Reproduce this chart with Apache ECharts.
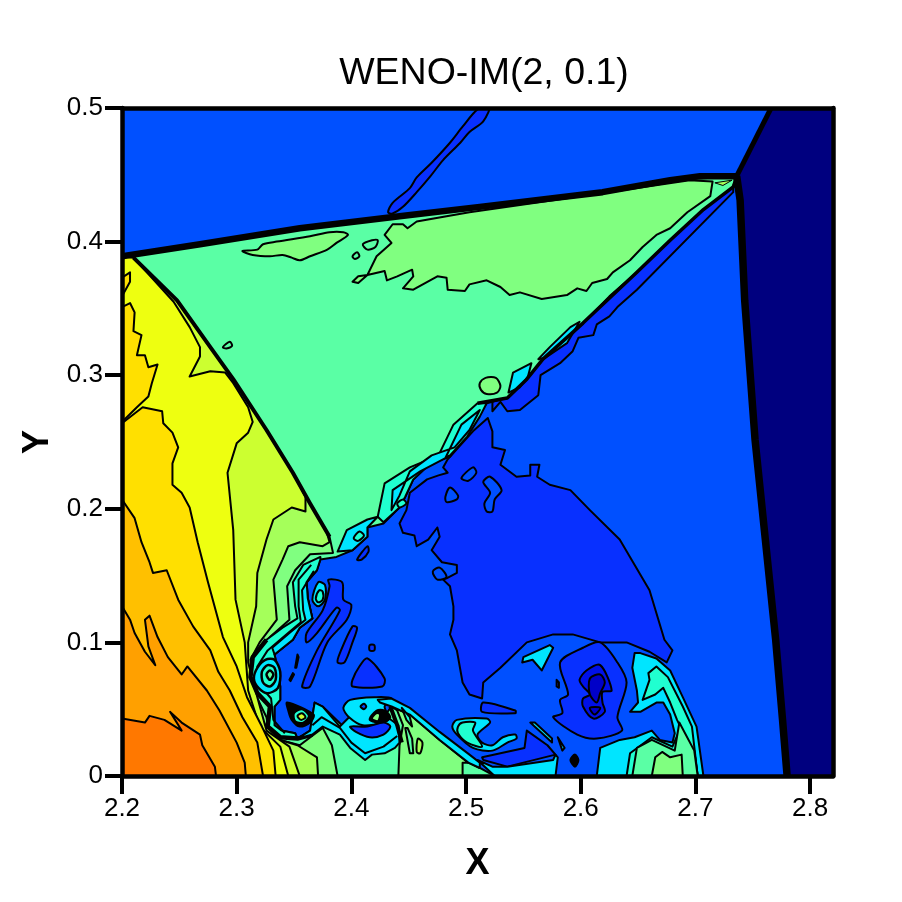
<!DOCTYPE html>
<html><head><meta charset="utf-8">
<style>html,body{margin:0;background:#fff}#c{width:902px;height:902px}</style>
<script src="https://cdn.jsdelivr.net/npm/echarts@6/dist/echarts.min.js"></script>
</head><body><div id="c"></div>
<script>
const chartTitle='WENO-IM(2, 0.1)';
const xTicks=[2.2,2.3,2.4,2.5,2.6,2.7,2.8];
const yTicks=[0,0.1,0.2,0.3,0.4,0.5];
const field=[[2.2,0],[2.82,0],[2.82,.5],[2.2,.5]];
const navy=[[2.766,.5],[2.82,.5],[2.82,0],[2.78,0],[2.776,.042],[2.77,.102],[2.761,.177],[2.752,.252],[2.743,.356],[2.739,.431],[2.736,.448]];
const jet=[[2.432,.422],[2.436,.429],[2.451,.44],[2.457,.448],[2.47,.459],[2.486,.474],[2.497,.486],[2.51,.499],[2.521,.502],[2.515,.49],[2.503,.482],[2.495,.474],[2.48,.461],[2.469,.449],[2.457,.437],[2.445,.426],[2.436,.421]];
const innerBlue=[[2.519,.268],[2.523,.258],[2.523,.246],[2.534,.244],[2.53,.233],[2.544,.224],[2.556,.225],[2.556,.233],[2.564,.233],[2.562,.224],[2.573,.218],[2.591,.214],[2.608,.199],[2.634,.177],[2.66,.139],[2.673,.102],[2.68,.094],[2.675,.085],[2.66,.093],[2.64,.1],[2.617,.1],[2.593,.106],[2.576,.106],[2.553,.1],[2.53,.081],[2.515,.07],[2.514,.058],[2.503,.061],[2.497,.07],[2.492,.094],[2.486,.106],[2.489,.117],[2.489,.127],[2.486,.142],[2.48,.147],[2.483,.148],[2.492,.152],[2.492,.158],[2.479,.16],[2.47,.169],[2.477,.179],[2.475,.186],[2.467,.177],[2.457,.172],[2.455,.18],[2.445,.182],[2.442,.189],[2.448,.199],[2.451,.212],[2.466,.222],[2.476,.225],[2.484,.227],[2.48,.231],[2.484,.237],[2.506,.258]];
const isleA=[[2.471,.153],[2.477,.156],[2.483,.149],[2.475,.147]];
const isleB=[[2.482,.209],[2.486,.216],[2.493,.21],[2.492,.207],[2.483,.205]];
const isleC=[[2.496,.223],[2.506,.231],[2.509,.227],[2.502,.221]];
const isleD=[[2.515,.22],[2.521,.224],[2.531,.214],[2.525,.207],[2.523,.198],[2.518,.198],[2.516,.204],[2.521,.212]];
const slipStrip=[[2.523,.273],[2.53,.28],[2.536,.273],[2.547,.274],[2.563,.285],[2.565,.3],[2.582,.309],[2.593,.318],[2.598,.328],[2.611,.33],[2.614,.338],[2.625,.344],[2.632,.351],[2.649,.364],[2.733,.437],[2.733,.446],[2.617,.37],[2.564,.325],[2.538,.3],[2.523,.285]];
const teal=[[2.2,.389],[2.355,.41],[2.512,.426],[2.619,.437],[2.678,.446],[2.736,.449],[2.733,.441],[2.707,.424],[2.678,.401],[2.649,.377],[2.625,.359],[2.602,.339],[2.588,.327],[2.567,.312],[2.553,.297],[2.536,.283],[2.518,.279],[2.51,.269],[2.501,.255],[2.486,.239],[2.469,.234],[2.454,.222],[2.447,.209],[2.442,.201],[2.428,.189],[2.414,.186],[2.414,.179],[2.401,.169],[2.387,.164],[2.373,.162],[2.37,.154],[2.361,.145],[2.362,.133],[2.366,.118],[2.355,.111],[2.349,.102],[2.333,.091],[2.336,.079],[2.338,.067],[2.338,.057],[2.333,.052],[2.333,.038],[2.339,.034],[2.351,.032],[2.353,.028],[2.364,.034],[2.368,.055],[2.375,.052],[2.393,.037],[2.42,.035],[2.435,.052],[2.451,.046],[2.477,.027],[2.502,.01],[2.512,.006],[2.525,0],[2.2,0]];
const patchSmall=[[2.305,.393],[2.318,.394],[2.323,.398],[2.335,.4],[2.364,.404],[2.381,.407],[2.393,.407],[2.397,.405],[2.387,.399],[2.379,.394],[2.364,.389],[2.355,.386],[2.348,.388],[2.34,.39],[2.329,.389],[2.314,.39]];
const patchBig=[[2.436,.413],[2.445,.413],[2.449,.41],[2.457,.415],[2.483,.419],[2.503,.422],[2.617,.436],[2.695,.446],[2.715,.445],[2.713,.434],[2.693,.422],[2.678,.41],[2.666,.405],[2.654,.396],[2.643,.386],[2.628,.377],[2.623,.372],[2.61,.369],[2.605,.363],[2.597,.365],[2.588,.36],[2.566,.357],[2.547,.362],[2.538,.36],[2.53,.366],[2.518,.371],[2.503,.368],[2.499,.363],[2.484,.364],[2.483,.373],[2.475,.374],[2.454,.364],[2.445,.365],[2.454,.374],[2.453,.379],[2.44,.374],[2.431,.371],[2.429,.378],[2.414,.375],[2.406,.369],[2.401,.37],[2.406,.374],[2.414,.375],[2.422,.389],[2.435,.399],[2.429,.405]];
const tipPatch=[[2.717,.444],[2.732,.446],[2.724,.442]];
const ovalA=[[2.41,.398],[2.418,.401],[2.423,.401],[2.421,.396],[2.414,.394]];
const ovalB=[[2.401,.389],[2.405,.392],[2.407,.389],[2.403,.387]];
const ovalC=[[2.288,.321],[2.294,.325],[2.296,.322],[2.291,.32]];
const ovalD=[[2.512,.294],[2.517,.298],[2.526,.298],[2.53,.292],[2.527,.287],[2.518,.286],[2.513,.289]];
const fanShock=[[2.21,.388],[2.248,.356],[2.277,.321],[2.297,.297],[2.326,.259],[2.349,.227],[2.364,.204],[2.381,.179]];
const fan8=[[2.2,.389],[2.21,.388],[2.248,.356],[2.277,.321],[2.297,.297],[2.326,.259],[2.349,.227],[2.364,.204],[2.381,.179],[2.384,.167],[2.364,.166],[2.351,.154],[2.344,.142],[2.346,.117],[2.329,.104],[2.314,.089],[2.313,.067],[2.326,.044],[2.329,.029],[2.355,.023],[2.375,.036],[2.383,.023],[2.388,0],[2.2,0]];
const fan7=[[2.2,.389],[2.21,.388],[2.248,.356],[2.277,.321],[2.297,.297],[2.326,.259],[2.349,.227],[2.364,.204],[2.378,.184],[2.381,.175],[2.375,.172],[2.355,.175],[2.345,.172],[2.34,.162],[2.332,.147],[2.335,.117],[2.32,.1],[2.312,.087],[2.314,.064],[2.323,.04],[2.338,.027],[2.353,.023],[2.37,.014],[2.371,0],[2.2,0]];
const fan6=[[2.2,.389],[2.21,.388],[2.248,.356],[2.277,.321],[2.297,.297],[2.326,.259],[2.349,.227],[2.36,.209],[2.36,.198],[2.348,.201],[2.332,.192],[2.326,.177],[2.318,.152],[2.317,.127],[2.31,.1],[2.31,.085],[2.318,.059],[2.326,.034],[2.346,.022],[2.355,0],[2.2,0]];
const fan5=[[2.2,.389],[2.21,.388],[2.245,.355],[2.259,.336],[2.268,.321],[2.268,.314],[2.259,.299],[2.277,.303],[2.29,.302],[2.297,.294],[2.31,.276],[2.314,.265],[2.31,.257],[2.3,.249],[2.292,.227],[2.297,.184],[2.299,.132],[2.307,.1],[2.31,.064],[2.32,.037],[2.338,.022],[2.345,0],[2.2,0]];
const fan4=[[2.2,.264],[2.218,.276],[2.235,.273],[2.236,.264],[2.244,.257],[2.249,.246],[2.244,.234],[2.244,.218],[2.252,.212],[2.259,.201],[2.266,.175],[2.275,.145],[2.288,.104],[2.3,.082],[2.309,.059],[2.322,.037],[2.332,.019],[2.334,0],[2.2,0]];
const fan4b=[[2.2,.351],[2.207,.354],[2.211,.347],[2.21,.333],[2.217,.33],[2.213,.315],[2.22,.315],[2.223,.306],[2.231,.308],[2.226,.294],[2.223,.284],[2.213,.276],[2.2,.265]];
const fan4c=[[2.2,.373],[2.207,.377],[2.207,.37],[2.2,.359]];
const fan3=[[2.2,.207],[2.211,.193],[2.217,.175],[2.224,.16],[2.227,.152],[2.239,.154],[2.249,.132],[2.262,.112],[2.277,.094],[2.284,.078],[2.294,.064],[2.305,.044],[2.318,.025],[2.323,0],[2.2,0]];
const fan2=[[2.2,.127],[2.207,.117],[2.211,.107],[2.22,.093],[2.229,.083],[2.223,.097],[2.22,.117],[2.224,.12],[2.231,.104],[2.24,.089],[2.252,.076],[2.257,.082],[2.274,.064],[2.285,.049],[2.3,.025],[2.307,.01],[2.308,0],[2.2,0]];
const fan1=[[2.2,.043],[2.22,.04],[2.224,.045],[2.237,.042],[2.252,.034],[2.242,.048],[2.252,.04],[2.268,.031],[2.27,.023],[2.281,.007],[2.282,0],[2.2,0]];
const lensA=[[2.563,.312],[2.573,.321],[2.591,.336],[2.599,.34],[2.588,.324],[2.569,.313]];
const lensB=[[2.537,.287],[2.541,.302],[2.557,.309],[2.554,.299],[2.547,.291]];
const lensC=[[2.423,.194],[2.429,.219],[2.451,.231],[2.476,.24],[2.489,.263],[2.51,.279],[2.518,.279],[2.512,.269],[2.501,.254],[2.486,.24],[2.469,.234],[2.454,.222],[2.447,.209],[2.442,.201],[2.428,.19]];
const lensCin=[[2.435,.199],[2.436,.214],[2.46,.228],[2.482,.238],[2.496,.263],[2.512,.274],[2.503,.259],[2.49,.246],[2.47,.24],[2.451,.228],[2.442,.21]];
const lensD=[[2.388,.168],[2.396,.184],[2.414,.192],[2.423,.194],[2.414,.186],[2.414,.179],[2.401,.169]];
const ringC=[[2.44,.204],[2.445,.207],[2.448,.204],[2.442,.201]];
const ringD=[[2.402,.178],[2.407,.183],[2.411,.18],[2.406,.176]];
const bandL=[[2.373,.164],[2.358,.158],[2.349,.145],[2.351,.127],[2.353,.118],[2.34,.111],[2.326,.102],[2.314,.089],[2.312,.074],[2.318,.062],[2.329,.052],[2.327,.037],[2.338,.029],[2.353,.028],[2.351,.032],[2.339,.034],[2.333,.038],[2.333,.052],[2.338,.057],[2.338,.067],[2.336,.079],[2.333,.091],[2.349,.102],[2.355,.111],[2.366,.118],[2.362,.133],[2.361,.145],[2.37,.154],[2.373,.162]];
const bandLin=[[2.367,.153],[2.357,.139],[2.358,.124],[2.36,.117],[2.346,.107],[2.331,.096],[2.333,.091],[2.349,.102],[2.355,.111],[2.366,.118],[2.362,.133],[2.361,.145]];
const bandLedge=[[2.326,.102],[2.314,.089],[2.312,.074],[2.318,.062],[2.329,.052],[2.327,.037],[2.338,.029],[2.353,.028],[2.366,.031]];
const bandLmid=[[2.365,.158],[2.354,.147],[2.354,.127],[2.356,.115],[2.342,.105],[2.327,.094],[2.318,.082],[2.32,.068],[2.33,.058],[2.332,.042],[2.342,.032]];
const vortexA1=[[2.318,.081],[2.325,.087],[2.333,.087],[2.338,.078],[2.336,.066],[2.327,.062],[2.319,.066],[2.315,.073]];
const vortexA2=[[2.322,.078],[2.327,.083],[2.333,.081],[2.334,.072],[2.329,.067],[2.323,.07]];
const vortexA3=[[2.326,.076],[2.329,.079],[2.332,.076],[2.329,.072]];
const vortexB1=[[2.366,.132],[2.371,.145],[2.377,.143],[2.377,.132],[2.371,.127]];
const vortexB2=[[2.369,.133],[2.372,.139],[2.375,.138],[2.375,.132],[2.371,.13]];
const vortexC1=[[2.344,.055],[2.367,.046],[2.364,.04],[2.355,.037],[2.348,.042],[2.345,.049]];
const vortexC2=[[2.35,.047],[2.357,.05],[2.363,.045],[2.358,.04],[2.351,.041]];
const vortexC3=[[2.353,.045],[2.357,.047],[2.36,.044],[2.356,.042]];
const bandM=[[2.353,.028],[2.366,.031],[2.375,.037],[2.39,.031],[2.399,.021],[2.412,.012],[2.418,.016],[2.429,.017],[2.438,.021],[2.442,.025],[2.441,.038],[2.433,.043],[2.398,.044],[2.39,.037],[2.375,.052],[2.368,.055],[2.364,.034]];
const bandMline=[[2.366,.038],[2.374,.044],[2.39,.036],[2.4,.025],[2.412,.017],[2.428,.022],[2.44,.03]];
const blob=[[2.393,.051],[2.399,.057],[2.422,.059],[2.435,.058],[2.429,.052],[2.433,.043],[2.428,.04],[2.41,.038],[2.398,.044]];
const blobDot=[[2.408,.052],[2.411,.054],[2.413,.052],[2.411,.05]];
const vortexD1=[[2.416,.042],[2.422,.049],[2.429,.049],[2.434,.044],[2.427,.04]];
const vortexD2=[[2.418,.043],[2.422,.047],[2.425,.046],[2.423,.041]];
const crescent=[[2.399,.037],[2.414,.037],[2.428,.04],[2.434,.037],[2.428,.031],[2.416,.029],[2.404,.033]];
const arc=[[2.423,.057],[2.435,.058],[2.451,.051],[2.477,.033],[2.503,.016],[2.512,.01],[2.512,.006],[2.502,.01],[2.477,.027],[2.451,.046],[2.435,.052],[2.425,.055]];
const wedgeLine=[[2.434,.052],[2.44,.038],[2.444,.025]];
const tongueA=[[2.447,.036],[2.451,.017],[2.454,.017],[2.453,.028],[2.449,.036]];
const tongueB=[[2.444,.051],[2.451,.044],[2.453,.037],[2.448,.042]];
const lensE=[[2.458,.028],[2.462,.025],[2.46,.017],[2.457,.018]];
const floorGreen=[[2.441,0],[2.442,.023],[2.445,.038],[2.44,.049],[2.435,.052],[2.451,.046],[2.477,.027],[2.502,.01],[2.497,.01],[2.497,0]];
const mush1=[[2.647,.092],[2.652,.092],[2.666,.088],[2.678,.079],[2.689,.059],[2.701,.037],[2.707,0],[2.614,0],[2.617,.021],[2.634,.027],[2.647,.029],[2.662,.034],[2.669,.027],[2.68,.025],[2.682,.032],[2.678,.046],[2.672,.055],[2.666,.055],[2.652,.048],[2.643,.048],[2.65,.055],[2.649,.064],[2.645,.081]];
const mush2=[[2.659,.077],[2.666,.082],[2.676,.074],[2.689,.052],[2.697,.037],[2.702,0],[2.695,.023],[2.684,.042],[2.678,.055],[2.672,.066],[2.665,.061],[2.654,.057],[2.66,.072]];
const mush2b=[[2.64,0],[2.643,.017],[2.662,.029],[2.68,.022],[2.686,.034],[2.699,.019],[2.702,0]];
const mush3=[[2.645,0],[2.649,.021],[2.662,.027],[2.682,.019],[2.686,.04],[2.699,.019],[2.702,0]];
const mush4=[[2.662,0],[2.665,.014],[2.671,.018],[2.678,.014],[2.688,.016],[2.689,0]];
const lm1=[[2.488,.037],[2.492,.042],[2.518,.043],[2.521,.04],[2.51,.031],[2.514,.025],[2.523,.023],[2.532,.029],[2.543,.031],[2.544,.028],[2.536,.025],[2.523,.019],[2.506,.021],[2.492,.031]];
const lm2=[[2.493,.037],[2.497,.04],[2.508,.04],[2.506,.034],[2.514,.022],[2.501,.025],[2.493,.032]];
const lowBlue=[[2.514,.014],[2.551,.021],[2.553,.034],[2.571,.023],[2.578,.016],[2.536,.007],[2.515,.012]];
const sliverA=[[2.556,.04],[2.56,.04],[2.575,.028],[2.575,.025]];
const sliverB=[[2.58,.029],[2.586,.021],[2.584,.019]];
const sliverC=[[2.579,.072],[2.581,.07],[2.581,.066],[2.579,.067]];
const blackDot=[[2.591,.012],[2.595,.016],[2.598,.012],[2.595,.007]];
const floorCyan=[[2.51,.012],[2.523,.007],[2.536,.007],[2.576,.012],[2.578,.016],[2.58,.014],[2.578,0],[2.525,0]];
const upperBar=[[2.515,.055],[2.543,.049],[2.543,.047],[2.514,.048]];
const topCyan=[[2.55,.089],[2.573,.098],[2.576,.096],[2.566,.079],[2.558,.087],[2.549,.085]];
const core1=[[2.617,.1],[2.632,.085],[2.64,.07],[2.632,.044],[2.636,.034],[2.614,.028],[2.597,.031],[2.576,.044],[2.584,.047],[2.582,.057],[2.589,.061],[2.582,.085],[2.602,.096]];
const core2=[[2.599,.072],[2.605,.079],[2.617,.083],[2.627,.064],[2.619,.063],[2.619,.055],[2.621,.048],[2.611,.043],[2.602,.052],[2.602,.058],[2.608,.061],[2.602,.067]];
const core3=[[2.608,.073],[2.617,.076],[2.621,.07],[2.617,.062],[2.614,.055],[2.608,.061]];
const core4=[[2.608,.051],[2.617,.051],[2.612,.046]];
const isl1=[[2.38,.147],[2.392,.145],[2.393,.132],[2.4,.128],[2.396,.117],[2.379,.1],[2.364,.067],[2.357,.067],[2.37,.094],[2.39,.124],[2.387,.126],[2.37,.107],[2.361,.1],[2.361,.107],[2.375,.124],[2.381,.142]];
const isl2=[[2.405,.111],[2.401,.112],[2.39,.092],[2.388,.085],[2.394,.085],[2.401,.1]];
const isl3=[[2.414,.088],[2.429,.073],[2.427,.067],[2.401,.067],[2.401,.072],[2.407,.082]];
const isl4=[[2.416,.098],[2.42,.098],[2.42,.094],[2.416,.094]];
const isl5=[[2.351,.081],[2.353,.091],[2.354,.089],[2.352,.081]];
const isl6=[[2.346,.072],[2.349,.077],[2.35,.076],[2.347,.071]];
const isl7=[[2.405,.162],[2.414,.172],[2.415,.168],[2.409,.162]];
const slipLine=[[2.51,.279],[2.536,.283],[2.553,.297],[2.567,.312],[2.602,.339],[2.649,.377],[2.678,.401],[2.707,.424],[2.733,.441],[2.736,.448]];
const topShock=[[2.2,.389],[2.268,.398],[2.355,.41],[2.442,.419],[2.512,.426],[2.619,.437],[2.678,.446],[2.704,.449],[2.736,.449]];
const upperShock=[[2.766,.5],[2.736,.449]];
const rightShock=[[2.736,.449],[2.739,.431],[2.743,.356],[2.752,.252],[2.761,.177],[2.77,.102],[2.776,.042],[2.78,0]];

const C={blue:'#0050ff',deep:'#0830ff',deeper:'#0010e8',deepest:'#0000c8',navy:'#00007f',cyan:'#00e5ff',aqua:'#20ffd0',teal:'#5affa5',lg:'#80ff80',lime:'#a5ff5a',ygreen:'#ccff30',yellow:'#eeff10',gold:'#ffe000',amber:'#ffc000',orange:'#ffa000',deepor:'#ff7800',black:'#000'};
const P=(pts,fill,w)=>({pts,fill,w:w===undefined?2:w});
const S=(pts,fill,w)=>({pts,fill,w:w===undefined?2:w,smooth:0.3});
const L=(pts,w)=>({pts,line:true,w});
const layers=[
 P(field,C.blue,0),P(navy,C.navy,0),S(jet,C.deep),P(innerBlue,C.deep),P(slipStrip,C.deep),
 S(isleA,C.blue),S(isleB,C.blue),S(isleC,C.blue),S(isleD,C.blue),
 P(teal,C.teal),S(patchSmall,C.lg),P(patchBig,C.lg),P(tipPatch,C.lime,1),
 S(ovalA,C.teal),S(ovalB,C.teal),S(ovalC,C.teal),S(ovalD,C.lg),
 P(fan8,C.lg),P(fan7,C.lime),P(fan6,C.ygreen),P(fan5,C.yellow),P(fan4,C.gold),P(fan4b,C.gold),P(fan4c,C.gold),P(fan3,C.amber),P(fan2,C.orange),P(fan1,C.deepor),
 P(lensA,C.cyan),P(lensB,C.cyan),P(lensC,C.aqua),P(lensCin,C.cyan),P(lensD,C.cyan),S(ringC,C.aqua),S(ringD,C.aqua),
 P(bandL,C.aqua),P(bandLin,C.cyan),L(bandLmid,2),S(vortexA1,C.cyan,2.5),S(vortexA2,C.aqua,2.5),S(vortexA3,C.teal,2.5),S(vortexB1,C.cyan),S(vortexB2,C.aqua),L(bandLedge,4.5),
 P(floorGreen,C.lg),P(bandM,C.cyan),L(bandMline,2),S(blob,C.cyan),S(blobDot,C.blue),S(vortexD1,C.black),S(vortexD2,C.lg),S(crescent,C.deep),
 P(arc,C.cyan),L(wedgeLine,4),P(tongueA,C.teal),P(tongueB,C.aqua),S(lensE,C.lime),S(vortexC1,C.black),S(vortexC2,C.aqua),S(vortexC3,C.ygreen),
 P(mush1,C.cyan),P(mush2,C.aqua),P(mush2b,C.aqua),P(mush3,C.teal),P(mush4,C.lg),S(lm1,C.cyan),S(lm2,C.aqua),P(lowBlue,C.deep),P(sliverA,C.cyan),P(sliverB,C.cyan),P(sliverC,C.deep),S(blackDot,C.black),P(floorCyan,C.cyan),S(upperBar,C.deep),P(topCyan,C.cyan),
 S(core1,C.deep),S(core2,C.deeper),S(core3,C.deepest),S(core4,C.deepest),
 S(isl1,C.deep),S(isl2,C.deep),S(isl3,C.deep),S(isl4,C.deep),P(isl5,C.deep),P(isl6,C.deep),S(isl7,C.deep),
 L(fanShock,4),L(slipLine,3.5),L(topShock,6.5),L(upperShock,5),L(rightShock,7.5)
];
const chart=echarts.init(document.getElementById('c'),null,{renderer:'canvas'});
const font='"Liberation Sans",Arial,sans-serif';
chart.setOption({
 animation:false,backgroundColor:'#fff',
 title:{text:chartTitle,left:479,top:50,textAlign:'center',textStyle:{fontFamily:font,fontSize:37.5,fontWeight:'normal',color:'#000'}},
 grid:{left:122,right:69,top:108,bottom:126},
 xAxis:[
  {type:'value',min:2.2,max:2.82,position:'bottom',z:10,name:'X',nameLocation:'middle',nameGap:70,nameTextStyle:{fontFamily:font,fontSize:36,fontWeight:'bold',color:'#000'},
   splitLine:{show:false},axisLine:{onZero:false,lineStyle:{color:'#000',width:4.5}},
   axisTick:{customValues:xTicks,length:18,lineStyle:{color:'#000',width:4}},
   axisLabel:{customValues:xTicks,margin:20,fontFamily:font,fontSize:26,color:'#000',formatter:v=>Number(v).toFixed(1)}},
  {type:'value',min:2.2,max:2.82,position:'top',z:10,splitLine:{show:false},axisLine:{onZero:false,lineStyle:{color:'#000',width:4.5}},axisTick:{show:false},axisLabel:{show:false}}
 ],
 yAxis:[
  {type:'value',min:0,max:0.5,position:'left',z:10,name:'Y',nameLocation:'middle',nameGap:65,nameTextStyle:{fontFamily:font,fontSize:36,fontWeight:'bold',color:'#000'},
   splitLine:{show:false},axisLine:{onZero:false,lineStyle:{color:'#000',width:4.5}},
   axisTick:{customValues:yTicks,length:17,lineStyle:{color:'#000',width:4}},
   axisLabel:{customValues:yTicks,margin:19,fontFamily:font,fontSize:26,color:'#000',formatter:v=>Number(v)===0?'0':Number(v).toFixed(1)}},
  {type:'value',min:0,max:0.5,position:'right',z:10,splitLine:{show:false},axisLine:{onZero:false,lineStyle:{color:'#000',width:4.5}},axisTick:{show:false},axisLabel:{show:false}}
 ],
 series:[{type:'custom',coordinateSystem:'cartesian2d',xAxisIndex:0,yAxisIndex:0,silent:true,clip:true,
  data:layers.map((l,i)=>[l.pts[0][0],l.pts[0][1],i]),
  encode:{x:0,y:1},
  renderItem:function(params,api){
   const l=layers[api.value(2)];
   const pts=l.pts.map(p=>api.coord(p));
   if(l.line) return {type:'polyline',shape:{points:pts},style:{fill:null,stroke:'#000',lineWidth:l.w,lineJoin:'round'}};
   return {type:'polygon',shape:{points:pts,smooth:l.smooth||0},style:{fill:l.fill,stroke:l.w?'#000':null,lineWidth:l.w,lineJoin:'round'}};
  }
 }]
});
</script></body></html>
